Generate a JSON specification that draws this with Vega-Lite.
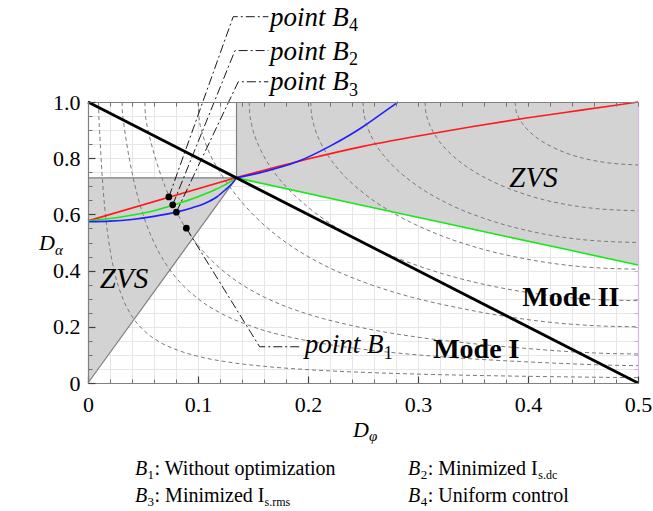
{
  "$schema": "https://vega.github.io/schema/vega-lite/v6.json",
  "width": 550,
  "height": 281,
  "autosize": {"type": "none"},
  "padding": {"left": 88, "top": 102, "right": 15, "bottom": 128},
  "background": "white",
  "config": {"view": {"stroke": null}, "font": "Liberation Serif, DejaVu Serif, serif"},
  "datasets": {
    "zvsLeft": [
      {"x": 0, "top": 0.73, "bot": 0},
      {"x": 0.135, "top": 0.73, "bot": 0.73}
    ],
    "zvsRight": [
      {"x": 0.135, "top": 1, "bot": 0.73},
      {"x": 0.5, "top": 1, "bot": 0.42}
    ],
    "edges": [
      {"edge": "diag", "x": 0, "y": 0},
      {"edge": "diag", "x": 0.135, "y": 0.73},
      {"edge": "horiz", "x": 0, "y": 0.73},
      {"edge": "horiz", "x": 0.135, "y": 0.73},
      {"edge": "vert", "x": 0.135, "y": 0.73},
      {"edge": "vert", "x": 0.135, "y": 1}
    ],
    "modeLine": [
      {"x": 0, "y": 1},
      {"x": 0.5, "y": 0}
    ],
    "contours": [
      {"lvl": "c1", "x": 0.0096, "y": 1.0},
      {"lvl": "c1", "x": 0.0097, "y": 0.979},
      {"lvl": "c1", "x": 0.011, "y": 0.864},
      {"lvl": "c1", "x": 0.0125, "y": 0.76},
      {"lvl": "c1", "x": 0.015, "y": 0.633},
      {"lvl": "c1", "x": 0.0175, "y": 0.543},
      {"lvl": "c1", "x": 0.02, "y": 0.475},
      {"lvl": "c1", "x": 0.025, "y": 0.38},
      {"lvl": "c1", "x": 0.03, "y": 0.317},
      {"lvl": "c1", "x": 0.04, "y": 0.2375},
      {"lvl": "c1", "x": 0.05, "y": 0.19},
      {"lvl": "c1", "x": 0.065, "y": 0.146},
      {"lvl": "c1", "x": 0.08, "y": 0.119},
      {"lvl": "c1", "x": 0.1, "y": 0.095},
      {"lvl": "c1", "x": 0.13, "y": 0.073},
      {"lvl": "c1", "x": 0.16, "y": 0.0594},
      {"lvl": "c1", "x": 0.2, "y": 0.0475},
      {"lvl": "c1", "x": 0.25, "y": 0.038},
      {"lvl": "c1", "x": 0.3, "y": 0.0317},
      {"lvl": "c1", "x": 0.35, "y": 0.0271},
      {"lvl": "c1", "x": 0.4, "y": 0.0238},
      {"lvl": "c1", "x": 0.45, "y": 0.0211},
      {"lvl": "c1", "x": 0.49, "y": 0.0194},
      {"lvl": "c1", "x": 0.5, "y": 0.0192},
      {"lvl": "c2", "x": 0.031, "y": 1.0},
      {"lvl": "c2", "x": 0.0312, "y": 0.97},
      {"lvl": "c2", "x": 0.0316, "y": 0.951},
      {"lvl": "c2", "x": 0.0321, "y": 0.936},
      {"lvl": "c2", "x": 0.033, "y": 0.909},
      {"lvl": "c2", "x": 0.035, "y": 0.857},
      {"lvl": "c2", "x": 0.04, "y": 0.75},
      {"lvl": "c2", "x": 0.045, "y": 0.667},
      {"lvl": "c2", "x": 0.05, "y": 0.6},
      {"lvl": "c2", "x": 0.06, "y": 0.5},
      {"lvl": "c2", "x": 0.07, "y": 0.4286},
      {"lvl": "c2", "x": 0.08, "y": 0.375},
      {"lvl": "c2", "x": 0.1, "y": 0.3},
      {"lvl": "c2", "x": 0.12, "y": 0.25},
      {"lvl": "c2", "x": 0.15, "y": 0.2},
      {"lvl": "c2", "x": 0.2, "y": 0.15},
      {"lvl": "c2", "x": 0.25, "y": 0.12},
      {"lvl": "c2", "x": 0.3, "y": 0.1},
      {"lvl": "c2", "x": 0.35, "y": 0.0857},
      {"lvl": "c2", "x": 0.4, "y": 0.075},
      {"lvl": "c2", "x": 0.44, "y": 0.0682},
      {"lvl": "c2", "x": 0.468, "y": 0.0641},
      {"lvl": "c2", "x": 0.48, "y": 0.0628},
      {"lvl": "c2", "x": 0.5, "y": 0.0619},
      {"lvl": "c3", "x": 0.0517, "y": 1.0},
      {"lvl": "c3", "x": 0.052, "y": 0.966},
      {"lvl": "c3", "x": 0.053, "y": 0.931},
      {"lvl": "c3", "x": 0.054, "y": 0.909},
      {"lvl": "c3", "x": 0.0551, "y": 0.89},
      {"lvl": "c3", "x": 0.06, "y": 0.817},
      {"lvl": "c3", "x": 0.065, "y": 0.754},
      {"lvl": "c3", "x": 0.07, "y": 0.7},
      {"lvl": "c3", "x": 0.075, "y": 0.653},
      {"lvl": "c3", "x": 0.08, "y": 0.6125},
      {"lvl": "c3", "x": 0.09, "y": 0.544},
      {"lvl": "c3", "x": 0.1, "y": 0.49},
      {"lvl": "c3", "x": 0.11, "y": 0.4455},
      {"lvl": "c3", "x": 0.125, "y": 0.392},
      {"lvl": "c3", "x": 0.14, "y": 0.35},
      {"lvl": "c3", "x": 0.16, "y": 0.306},
      {"lvl": "c3", "x": 0.18, "y": 0.272},
      {"lvl": "c3", "x": 0.2, "y": 0.245},
      {"lvl": "c3", "x": 0.25, "y": 0.196},
      {"lvl": "c3", "x": 0.3, "y": 0.163},
      {"lvl": "c3", "x": 0.35, "y": 0.14},
      {"lvl": "c3", "x": 0.4, "y": 0.1225},
      {"lvl": "c3", "x": 0.445, "y": 0.11},
      {"lvl": "c3", "x": 0.47, "y": 0.1054},
      {"lvl": "c3", "x": 0.5, "y": 0.1033},
      {"lvl": "c4", "x": 0.1, "y": 1.0},
      {"lvl": "c4", "x": 0.101, "y": 0.9435},
      {"lvl": "c4", "x": 0.103, "y": 0.902},
      {"lvl": "c4", "x": 0.106, "y": 0.862},
      {"lvl": "c4", "x": 0.11, "y": 0.822},
      {"lvl": "c4", "x": 0.114, "y": 0.79},
      {"lvl": "c4", "x": 0.1177, "y": 0.765},
      {"lvl": "c4", "x": 0.125, "y": 0.72},
      {"lvl": "c4", "x": 0.14, "y": 0.643},
      {"lvl": "c4", "x": 0.16, "y": 0.5625},
      {"lvl": "c4", "x": 0.18, "y": 0.5},
      {"lvl": "c4", "x": 0.2, "y": 0.45},
      {"lvl": "c4", "x": 0.22, "y": 0.409},
      {"lvl": "c4", "x": 0.25, "y": 0.36},
      {"lvl": "c4", "x": 0.28, "y": 0.321},
      {"lvl": "c4", "x": 0.31, "y": 0.29},
      {"lvl": "c4", "x": 0.34, "y": 0.265},
      {"lvl": "c4", "x": 0.37, "y": 0.243},
      {"lvl": "c4", "x": 0.3823, "y": 0.2354},
      {"lvl": "c4", "x": 0.4, "y": 0.2254},
      {"lvl": "c4", "x": 0.43, "y": 0.2123},
      {"lvl": "c4", "x": 0.46, "y": 0.204},
      {"lvl": "c4", "x": 0.5, "y": 0.2},
      {"lvl": "c5", "x": 0.1465, "y": 1.0},
      {"lvl": "c5", "x": 0.147, "y": 0.9605},
      {"lvl": "c5", "x": 0.149, "y": 0.915},
      {"lvl": "c5", "x": 0.152, "y": 0.875},
      {"lvl": "c5", "x": 0.156, "y": 0.837},
      {"lvl": "c5", "x": 0.16, "y": 0.806},
      {"lvl": "c5", "x": 0.17, "y": 0.746},
      {"lvl": "c5", "x": 0.18, "y": 0.699},
      {"lvl": "c5", "x": 0.2, "y": 0.626},
      {"lvl": "c5", "x": 0.22, "y": 0.568},
      {"lvl": "c5", "x": 0.25, "y": 0.5},
      {"lvl": "c5", "x": 0.28, "y": 0.4465},
      {"lvl": "c5", "x": 0.31, "y": 0.404},
      {"lvl": "c5", "x": 0.35, "y": 0.36},
      {"lvl": "c5", "x": 0.4, "y": 0.322},
      {"lvl": "c5", "x": 0.45, "y": 0.3},
      {"lvl": "c5", "x": 0.5, "y": 0.293},
      {"lvl": "c6", "x": 0.2025, "y": 1.0},
      {"lvl": "c6", "x": 0.203, "y": 0.966},
      {"lvl": "c6", "x": 0.205, "y": 0.923},
      {"lvl": "c6", "x": 0.208, "y": 0.886},
      {"lvl": "c6", "x": 0.212, "y": 0.851},
      {"lvl": "c6", "x": 0.22, "y": 0.799},
      {"lvl": "c6", "x": 0.23, "y": 0.75},
      {"lvl": "c6", "x": 0.25, "y": 0.6775},
      {"lvl": "c6", "x": 0.28, "y": 0.5995},
      {"lvl": "c6", "x": 0.31, "y": 0.542},
      {"lvl": "c6", "x": 0.35, "y": 0.486},
      {"lvl": "c6", "x": 0.4, "y": 0.44},
      {"lvl": "c6", "x": 0.45, "y": 0.4135},
      {"lvl": "c6", "x": 0.5, "y": 0.405},
      {"lvl": "c7", "x": 0.25, "y": 1.0},
      {"lvl": "c7", "x": 0.2505, "y": 0.968},
      {"lvl": "c7", "x": 0.252, "y": 0.937},
      {"lvl": "c7", "x": 0.255, "y": 0.9005},
      {"lvl": "c7", "x": 0.26, "y": 0.86},
      {"lvl": "c7", "x": 0.27, "y": 0.804},
      {"lvl": "c7", "x": 0.28, "y": 0.7625},
      {"lvl": "c7", "x": 0.3, "y": 0.7},
      {"lvl": "c7", "x": 0.33, "y": 0.633},
      {"lvl": "c7", "x": 0.36, "y": 0.586},
      {"lvl": "c7", "x": 0.4, "y": 0.542},
      {"lvl": "c7", "x": 0.45, "y": 0.51},
      {"lvl": "c7", "x": 0.5, "y": 0.5},
      {"lvl": "c8", "x": 0.3064, "y": 1.0},
      {"lvl": "c8", "x": 0.307, "y": 0.968},
      {"lvl": "c8", "x": 0.309, "y": 0.936},
      {"lvl": "c8", "x": 0.312, "y": 0.907},
      {"lvl": "c8", "x": 0.317, "y": 0.873},
      {"lvl": "c8", "x": 0.325, "y": 0.834},
      {"lvl": "c8", "x": 0.335, "y": 0.797},
      {"lvl": "c8", "x": 0.35, "y": 0.755},
      {"lvl": "c8", "x": 0.37, "y": 0.713},
      {"lvl": "c8", "x": 0.4, "y": 0.668},
      {"lvl": "c8", "x": 0.45, "y": 0.626},
      {"lvl": "c8", "x": 0.5, "y": 0.6127},
      {"lvl": "c9", "x": 0.3882, "y": 1.0},
      {"lvl": "c9", "x": 0.389, "y": 0.973},
      {"lvl": "c9", "x": 0.391, "y": 0.95},
      {"lvl": "c9", "x": 0.395, "y": 0.923},
      {"lvl": "c9", "x": 0.4, "y": 0.9},
      {"lvl": "c9", "x": 0.41, "y": 0.867},
      {"lvl": "c9", "x": 0.42, "y": 0.844},
      {"lvl": "c9", "x": 0.435, "y": 0.818},
      {"lvl": "c9", "x": 0.45, "y": 0.8},
      {"lvl": "c9", "x": 0.47, "y": 0.785},
      {"lvl": "c9", "x": 0.5, "y": 0.776}
    ],
    "trajectories": [
      {"c": "red", "seg": "r1", "x": 0, "y": 0.577},
      {"c": "red", "seg": "r1", "x": 0.135, "y": 0.731},
      {"c": "red", "seg": "r2", "x": 0.135, "y": 0.731},
      {"c": "red", "seg": "r2", "x": 0.2, "y": 0.797},
      {"c": "red", "seg": "r2", "x": 0.25, "y": 0.842},
      {"c": "red", "seg": "r2", "x": 0.3, "y": 0.879},
      {"c": "red", "seg": "r2", "x": 0.35, "y": 0.913},
      {"c": "red", "seg": "r2", "x": 0.4, "y": 0.944},
      {"c": "red", "seg": "r2", "x": 0.45, "y": 0.972},
      {"c": "red", "seg": "r2", "x": 0.5, "y": 1.0},
      {"c": "green", "seg": "g1", "x": 0, "y": 0.577},
      {"c": "green", "seg": "g1", "x": 0.03, "y": 0.591},
      {"c": "green", "seg": "g1", "x": 0.06, "y": 0.613},
      {"c": "green", "seg": "g1", "x": 0.08, "y": 0.636},
      {"c": "green", "seg": "g1", "x": 0.1, "y": 0.663},
      {"c": "green", "seg": "g1", "x": 0.115, "y": 0.687},
      {"c": "green", "seg": "g1", "x": 0.125, "y": 0.706},
      {"c": "green", "seg": "g1", "x": 0.135, "y": 0.73},
      {"c": "green", "seg": "g2", "x": 0.135, "y": 0.73},
      {"c": "green", "seg": "g2", "x": 0.25, "y": 0.632},
      {"c": "green", "seg": "g2", "x": 0.375, "y": 0.526},
      {"c": "green", "seg": "g2", "x": 0.5, "y": 0.42},
      {"c": "blue", "seg": "b1", "x": 0, "y": 0.574},
      {"c": "blue", "seg": "b1", "x": 0.02, "y": 0.576},
      {"c": "blue", "seg": "b1", "x": 0.04, "y": 0.582},
      {"c": "blue", "seg": "b1", "x": 0.06, "y": 0.593},
      {"c": "blue", "seg": "b1", "x": 0.08, "y": 0.608},
      {"c": "blue", "seg": "b1", "x": 0.095, "y": 0.624},
      {"c": "blue", "seg": "b1", "x": 0.106, "y": 0.639},
      {"c": "blue", "seg": "b1", "x": 0.117, "y": 0.662},
      {"c": "blue", "seg": "b1", "x": 0.125, "y": 0.688},
      {"c": "blue", "seg": "b1", "x": 0.131, "y": 0.71},
      {"c": "blue", "seg": "b1", "x": 0.135, "y": 0.73},
      {"c": "blue", "seg": "b2", "x": 0.135, "y": 0.73},
      {"c": "blue", "seg": "b2", "x": 0.16, "y": 0.752},
      {"c": "blue", "seg": "b2", "x": 0.19, "y": 0.787},
      {"c": "blue", "seg": "b2", "x": 0.22, "y": 0.843},
      {"c": "blue", "seg": "b2", "x": 0.25, "y": 0.912},
      {"c": "blue", "seg": "b2", "x": 0.265, "y": 0.953},
      {"c": "blue", "seg": "b2", "x": 0.282, "y": 1.0}
    ],
    "leaders": [
      {"pt": "B4", "ord": 1, "x": 0.0735, "y": 0.662},
      {"pt": "B4", "ord": 2, "x": 0.132, "y": 1.3036},
      {"pt": "B4", "ord": 3, "x": 0.164, "y": 1.3036},
      {"pt": "B2", "ord": 1, "x": 0.077, "y": 0.634},
      {"pt": "B2", "ord": 2, "x": 0.1336, "y": 1.183},
      {"pt": "B2", "ord": 3, "x": 0.164, "y": 1.183},
      {"pt": "B3", "ord": 1, "x": 0.0803, "y": 0.608},
      {"pt": "B3", "ord": 2, "x": 0.1366, "y": 1.072},
      {"pt": "B3", "ord": 3, "x": 0.164, "y": 1.072},
      {"pt": "B1", "ord": 1, "x": 0.0894, "y": 0.551},
      {"pt": "B1", "ord": 2, "x": 0.156, "y": 0.129},
      {"pt": "B1", "ord": 3, "x": 0.192, "y": 0.129}
    ],
    "points": [
      {"pt": "B4", "x": 0.0735, "y": 0.662},
      {"pt": "B2", "x": 0.077, "y": 0.634},
      {"pt": "B3", "x": 0.0803, "y": 0.608},
      {"pt": "B1", "x": 0.0894, "y": 0.551}
    ],
    "pointNames": [
      {"t": "point B", "x": 0.1655, "y": 1.27},
      {"t": "point B", "x": 0.1655, "y": 1.15},
      {"t": "point B", "x": 0.1655, "y": 1.042},
      {"t": "point B", "x": 0.197, "y": 0.106}
    ],
    "pointSubs": [
      {"t": "4", "x": 0.2373, "y": 1.251},
      {"t": "2", "x": 0.2373, "y": 1.131},
      {"t": "3", "x": 0.2373, "y": 1.023},
      {"t": "1", "x": 0.2688, "y": 0.087}
    ],
    "zvs": [
      {"t": "ZVS", "x": 0.0327, "y": 0.337},
      {"t": "ZVS", "x": 0.405, "y": 0.699}
    ],
    "modes": [
      {"t": "Mode II", "x": 0.439, "y": 0.274},
      {"t": "Mode I", "x": 0.353, "y": 0.088}
    ],
    "axisD": [
      {"t": "D", "x": 0.241, "y": -0.191},
      {"t": "D", "x": -0.0445, "y": 0.473}
    ],
    "axisSubs": [
      {"t": "φ", "x": 0.2555, "y": -0.206},
      {"t": "α", "x": -0.0300, "y": 0.457}
    ],
    "legendB": [
      {"t": "B", "x": 0.0427, "y": -0.326},
      {"t": "B", "x": 0.2910, "y": -0.326},
      {"t": "B", "x": 0.0427, "y": -0.423},
      {"t": "B", "x": 0.2910, "y": -0.423}
    ],
    "legendNums": [
      {"t": "1", "x": 0.0541, "y": -0.340},
      {"t": "2", "x": 0.3024, "y": -0.340},
      {"t": "3", "x": 0.0541, "y": -0.437},
      {"t": "4", "x": 0.3024, "y": -0.437}
    ],
    "legendText": [
      {"t": ": Without optimization", "x": 0.0605, "y": -0.326},
      {"t": ": Minimized I", "x": 0.3088, "y": -0.326},
      {"t": ": Minimized I", "x": 0.0605, "y": -0.423},
      {"t": ": Uniform control", "x": 0.3088, "y": -0.423}
    ],
    "legendIdx": [
      {"t": "s.dc", "x": 0.4093, "y": -0.340},
      {"t": "s.rms", "x": 0.1605, "y": -0.437}
    ]
  },
  "layer": [
    {
      "data": {"name": "zvsLeft"},
      "mark": {"type": "area", "color": "#d3d3d3", "opacity": 1},
      "encoding": {
        "x": {"field": "x", "type": "quantitative", "scale": {"domain": [0, 0.5], "nice": false, "zero": false},
          "axis": {"orient": "bottom", "title": null, "values": [0,0.02,0.04,0.06,0.08,0.1,0.12,0.14,0.16,0.18,0.2,0.22,0.24,0.26,0.28,0.3,0.32,0.34,0.36,0.38,0.4,0.42,0.44,0.46,0.48,0.5],
            "grid": true, "gridColor": "#e6e6e6", "gridWidth": 1, "ticks": false, "labels": false, "domain": false, "zindex": 0}},
        "y": {"field": "top", "type": "quantitative", "scale": {"domain": [0, 1], "nice": false, "zero": false},
          "axis": {"orient": "left", "title": null, "values": [0,0.05,0.1,0.15,0.2,0.25,0.3,0.35,0.4,0.45,0.5,0.55,0.6,0.65,0.7,0.75,0.8,0.85,0.9,0.95,1],
            "grid": true, "gridColor": "#e6e6e6", "gridWidth": 1, "ticks": false, "labels": false, "domain": false, "zindex": 0}},
        "y2": {"field": "bot"}
      }
    },
    {
      "data": {"name": "zvsRight"},
      "mark": {"type": "area", "color": "#d3d3d3", "opacity": 1},
      "encoding": {
        "x": {"field": "x", "type": "quantitative", "scale": {"domain": [0, 0.5], "nice": false, "zero": false},
          "axis": {"orient": "bottom", "title": null, "values": [0,0.02,0.04,0.06,0.08,0.1,0.12,0.14,0.16,0.18,0.2,0.22,0.24,0.26,0.28,0.3,0.32,0.34,0.36,0.38,0.4,0.42,0.44,0.46,0.48,0.5],
            "grid": false, "ticks": true, "tickSize": -4, "tickColor": "#707070", "tickWidth": 1, "labels": false, "domain": false, "zindex": 1}},
        "y": {"field": "top", "type": "quantitative", "scale": {"domain": [0, 1], "nice": false, "zero": false},
          "axis": {"orient": "left", "title": null, "values": [0,0.05,0.1,0.15,0.2,0.25,0.3,0.35,0.4,0.45,0.5,0.55,0.6,0.65,0.7,0.75,0.8,0.85,0.9,0.95,1],
            "grid": false, "ticks": true, "tickSize": -4, "tickColor": "#707070", "tickWidth": 1, "labels": false, "domain": false, "zindex": 1}},
        "y2": {"field": "bot"}
      }
    },
    {
      "data": {"name": "contours"},
      "mark": {"type": "line", "color": "#7a7a7a", "strokeWidth": 1, "strokeDash": [4, 3], "interpolate": "monotone", "clip": true},
      "encoding": {
        "x": {"field": "x", "type": "quantitative", "axis": null},
        "y": {"field": "y", "type": "quantitative", "axis": null},
        "detail": {"field": "lvl"},
        "order": {"field": "x"}
      }
    },
    {
      "data": {"name": "edges"},
      "mark": {"type": "line", "color": "#7f7f7f", "strokeWidth": 1.2},
      "encoding": {
        "x": {"field": "x", "type": "quantitative", "scale": {"domain": [0, 0.5], "nice": false, "zero": false},
          "axis": {"orient": "bottom", "title": null, "values": [0, 0.1, 0.2, 0.3, 0.4, 0.5],
            "labelExpr": "datum.value == 0 ? '0' : format(datum.value, '.1f')",
            "grid": false, "ticks": true, "tickSize": -7, "tickColor": "#404040", "tickWidth": 1.2,
            "domain": true, "domainColor": "#808080", "domainWidth": 1.2,
            "labelFont": "Liberation Serif, DejaVu Serif, serif", "labelFontSize": 22, "labelColor": "#000000", "labelPadding": 18,
            "labelFlush": false, "labelOverlap": false, "zindex": 1}},
        "y": {"field": "y", "type": "quantitative", "scale": {"domain": [0, 1], "nice": false, "zero": false},
          "axis": {"orient": "left", "title": null, "values": [0, 0.2, 0.4, 0.6, 0.8, 1],
            "labelExpr": "datum.value == 0 ? '0' : format(datum.value, '.1f')",
            "grid": false, "ticks": true, "tickSize": -7, "tickColor": "#404040", "tickWidth": 1.2,
            "domain": true, "domainColor": "#808080", "domainWidth": 1.2,
            "labelFont": "Liberation Serif, DejaVu Serif, serif", "labelFontSize": 22, "labelColor": "#000000", "labelPadding": 15,
            "labelFlush": false, "labelOverlap": false, "zindex": 1}},
        "detail": {"field": "edge"}
      }
    },
    {
      "data": {"name": "trajectories"},
      "mark": {"type": "line", "strokeWidth": 1.6, "interpolate": "monotone"},
      "encoding": {
        "x": {"field": "x", "type": "quantitative", "axis": null},
        "y": {"field": "y", "type": "quantitative", "axis": null},
        "color": {"field": "c", "type": "nominal", "legend": null,
          "scale": {"domain": ["red", "green", "blue"], "range": ["#ff1a1a", "#18e818", "#1f1fff"]}},
        "detail": {"field": "seg"},
        "order": {"field": "x"}
      }
    },
    {
      "data": {"name": "modeLine"},
      "mark": {"type": "line", "color": "#000000", "strokeWidth": 2.8},
      "encoding": {
        "x": {"field": "x", "type": "quantitative", "scale": {"domain": [0, 0.5], "nice": false, "zero": false},
          "axis": {"orient": "top", "title": null, "values": [0,0.02,0.04,0.06,0.08,0.1,0.12,0.14,0.16,0.18,0.2,0.22,0.24,0.26,0.28,0.3,0.32,0.34,0.36,0.38,0.4,0.42,0.44,0.46,0.48,0.5],
            "grid": false, "ticks": true, "tickSize": -4, "tickColor": "#707070", "labels": false,
            "domain": true, "domainColor": "#808080", "domainWidth": 1.2, "zindex": 1}},
        "y": {"field": "y", "type": "quantitative", "scale": {"domain": [0, 1], "nice": false, "zero": false},
          "axis": {"orient": "right", "title": null, "values": [0,0.05,0.1,0.15,0.2,0.25,0.3,0.35,0.4,0.45,0.5,0.55,0.6,0.65,0.7,0.75,0.8,0.85,0.9,0.95,1],
            "grid": false, "ticks": true, "tickSize": -4, "tickColor": "#c9a3d9", "labels": false,
            "domain": true, "domainColor": "#d8b8e4", "domainWidth": 1.2, "zindex": 0}}
      }
    },
    {
      "data": {"name": "leaders"},
      "mark": {"type": "line", "color": "#000000", "strokeWidth": 0.9, "strokeDash": [9, 3, 2, 3]},
      "encoding": {
        "x": {"field": "x", "type": "quantitative", "axis": null},
        "y": {"field": "y", "type": "quantitative", "axis": null},
        "detail": {"field": "pt"},
        "order": {"field": "ord"}
      }
    },
    {
      "data": {"name": "points"},
      "mark": {"type": "point", "filled": true, "color": "#000000", "size": 45, "opacity": 1},
      "encoding": {
        "x": {"field": "x", "type": "quantitative", "axis": null},
        "y": {"field": "y", "type": "quantitative", "axis": null}
      }
    },
    {
      "data": {"name": "pointNames"},
      "mark": {"type": "text", "font": "Liberation Serif, DejaVu Serif, serif", "fontStyle": "italic", "fontSize": 27, "align": "left", "baseline": "alphabetic", "color": "#000000"},
      "encoding": {
        "x": {"field": "x", "type": "quantitative", "axis": null},
        "y": {"field": "y", "type": "quantitative", "axis": null},
        "text": {"field": "t"}
      }
    },
    {
      "data": {"name": "pointSubs"},
      "mark": {"type": "text", "font": "Liberation Serif, DejaVu Serif, serif", "fontSize": 18, "align": "left", "baseline": "alphabetic", "color": "#000000"},
      "encoding": {
        "x": {"field": "x", "type": "quantitative", "axis": null},
        "y": {"field": "y", "type": "quantitative", "axis": null},
        "text": {"field": "t"}
      }
    },
    {
      "data": {"name": "zvs"},
      "mark": {"type": "text", "font": "Liberation Serif, DejaVu Serif, serif", "fontStyle": "italic", "fontSize": 29, "align": "center", "baseline": "alphabetic", "color": "#000000"},
      "encoding": {
        "x": {"field": "x", "type": "quantitative", "axis": null},
        "y": {"field": "y", "type": "quantitative", "axis": null},
        "text": {"field": "t"}
      }
    },
    {
      "data": {"name": "modes"},
      "mark": {"type": "text", "font": "Liberation Serif, DejaVu Serif, serif", "fontWeight": "bold", "fontSize": 28, "align": "center", "baseline": "alphabetic", "color": "#000000"},
      "encoding": {
        "x": {"field": "x", "type": "quantitative", "axis": null},
        "y": {"field": "y", "type": "quantitative", "axis": null},
        "text": {"field": "t"}
      }
    },
    {
      "data": {"name": "axisD"},
      "mark": {"type": "text", "font": "Liberation Serif, DejaVu Serif, serif", "fontStyle": "italic", "fontSize": 22, "align": "left", "baseline": "alphabetic", "color": "#000000"},
      "encoding": {
        "x": {"field": "x", "type": "quantitative", "axis": null},
        "y": {"field": "y", "type": "quantitative", "axis": null},
        "text": {"field": "t"}
      }
    },
    {
      "data": {"name": "axisSubs"},
      "mark": {"type": "text", "font": "Liberation Serif, DejaVu Serif, serif", "fontStyle": "italic", "fontSize": 15, "align": "left", "baseline": "alphabetic", "color": "#000000"},
      "encoding": {
        "x": {"field": "x", "type": "quantitative", "axis": null},
        "y": {"field": "y", "type": "quantitative", "axis": null},
        "text": {"field": "t"}
      }
    },
    {
      "data": {"name": "legendB"},
      "mark": {"type": "text", "font": "Liberation Serif, DejaVu Serif, serif", "fontStyle": "italic", "fontSize": 20, "align": "left", "baseline": "alphabetic", "color": "#000000"},
      "encoding": {
        "x": {"field": "x", "type": "quantitative", "axis": null},
        "y": {"field": "y", "type": "quantitative", "axis": null},
        "text": {"field": "t"}
      }
    },
    {
      "data": {"name": "legendNums"},
      "mark": {"type": "text", "font": "Liberation Serif, DejaVu Serif, serif", "fontSize": 13, "align": "left", "baseline": "alphabetic", "color": "#000000"},
      "encoding": {
        "x": {"field": "x", "type": "quantitative", "axis": null},
        "y": {"field": "y", "type": "quantitative", "axis": null},
        "text": {"field": "t"}
      }
    },
    {
      "data": {"name": "legendText"},
      "mark": {"type": "text", "font": "Liberation Serif, DejaVu Serif, serif", "fontSize": 20, "align": "left", "baseline": "alphabetic", "color": "#000000"},
      "encoding": {
        "x": {"field": "x", "type": "quantitative", "axis": null},
        "y": {"field": "y", "type": "quantitative", "axis": null},
        "text": {"field": "t"}
      }
    },
    {
      "data": {"name": "legendIdx"},
      "mark": {"type": "text", "font": "Liberation Serif, DejaVu Serif, serif", "fontSize": 12, "align": "left", "baseline": "alphabetic", "color": "#000000"},
      "encoding": {
        "x": {"field": "x", "type": "quantitative", "axis": null},
        "y": {"field": "y", "type": "quantitative", "axis": null},
        "text": {"field": "t"}
      }
    }
  ],
  "resolve": {"axis": {"x": "independent", "y": "independent"}}
}
